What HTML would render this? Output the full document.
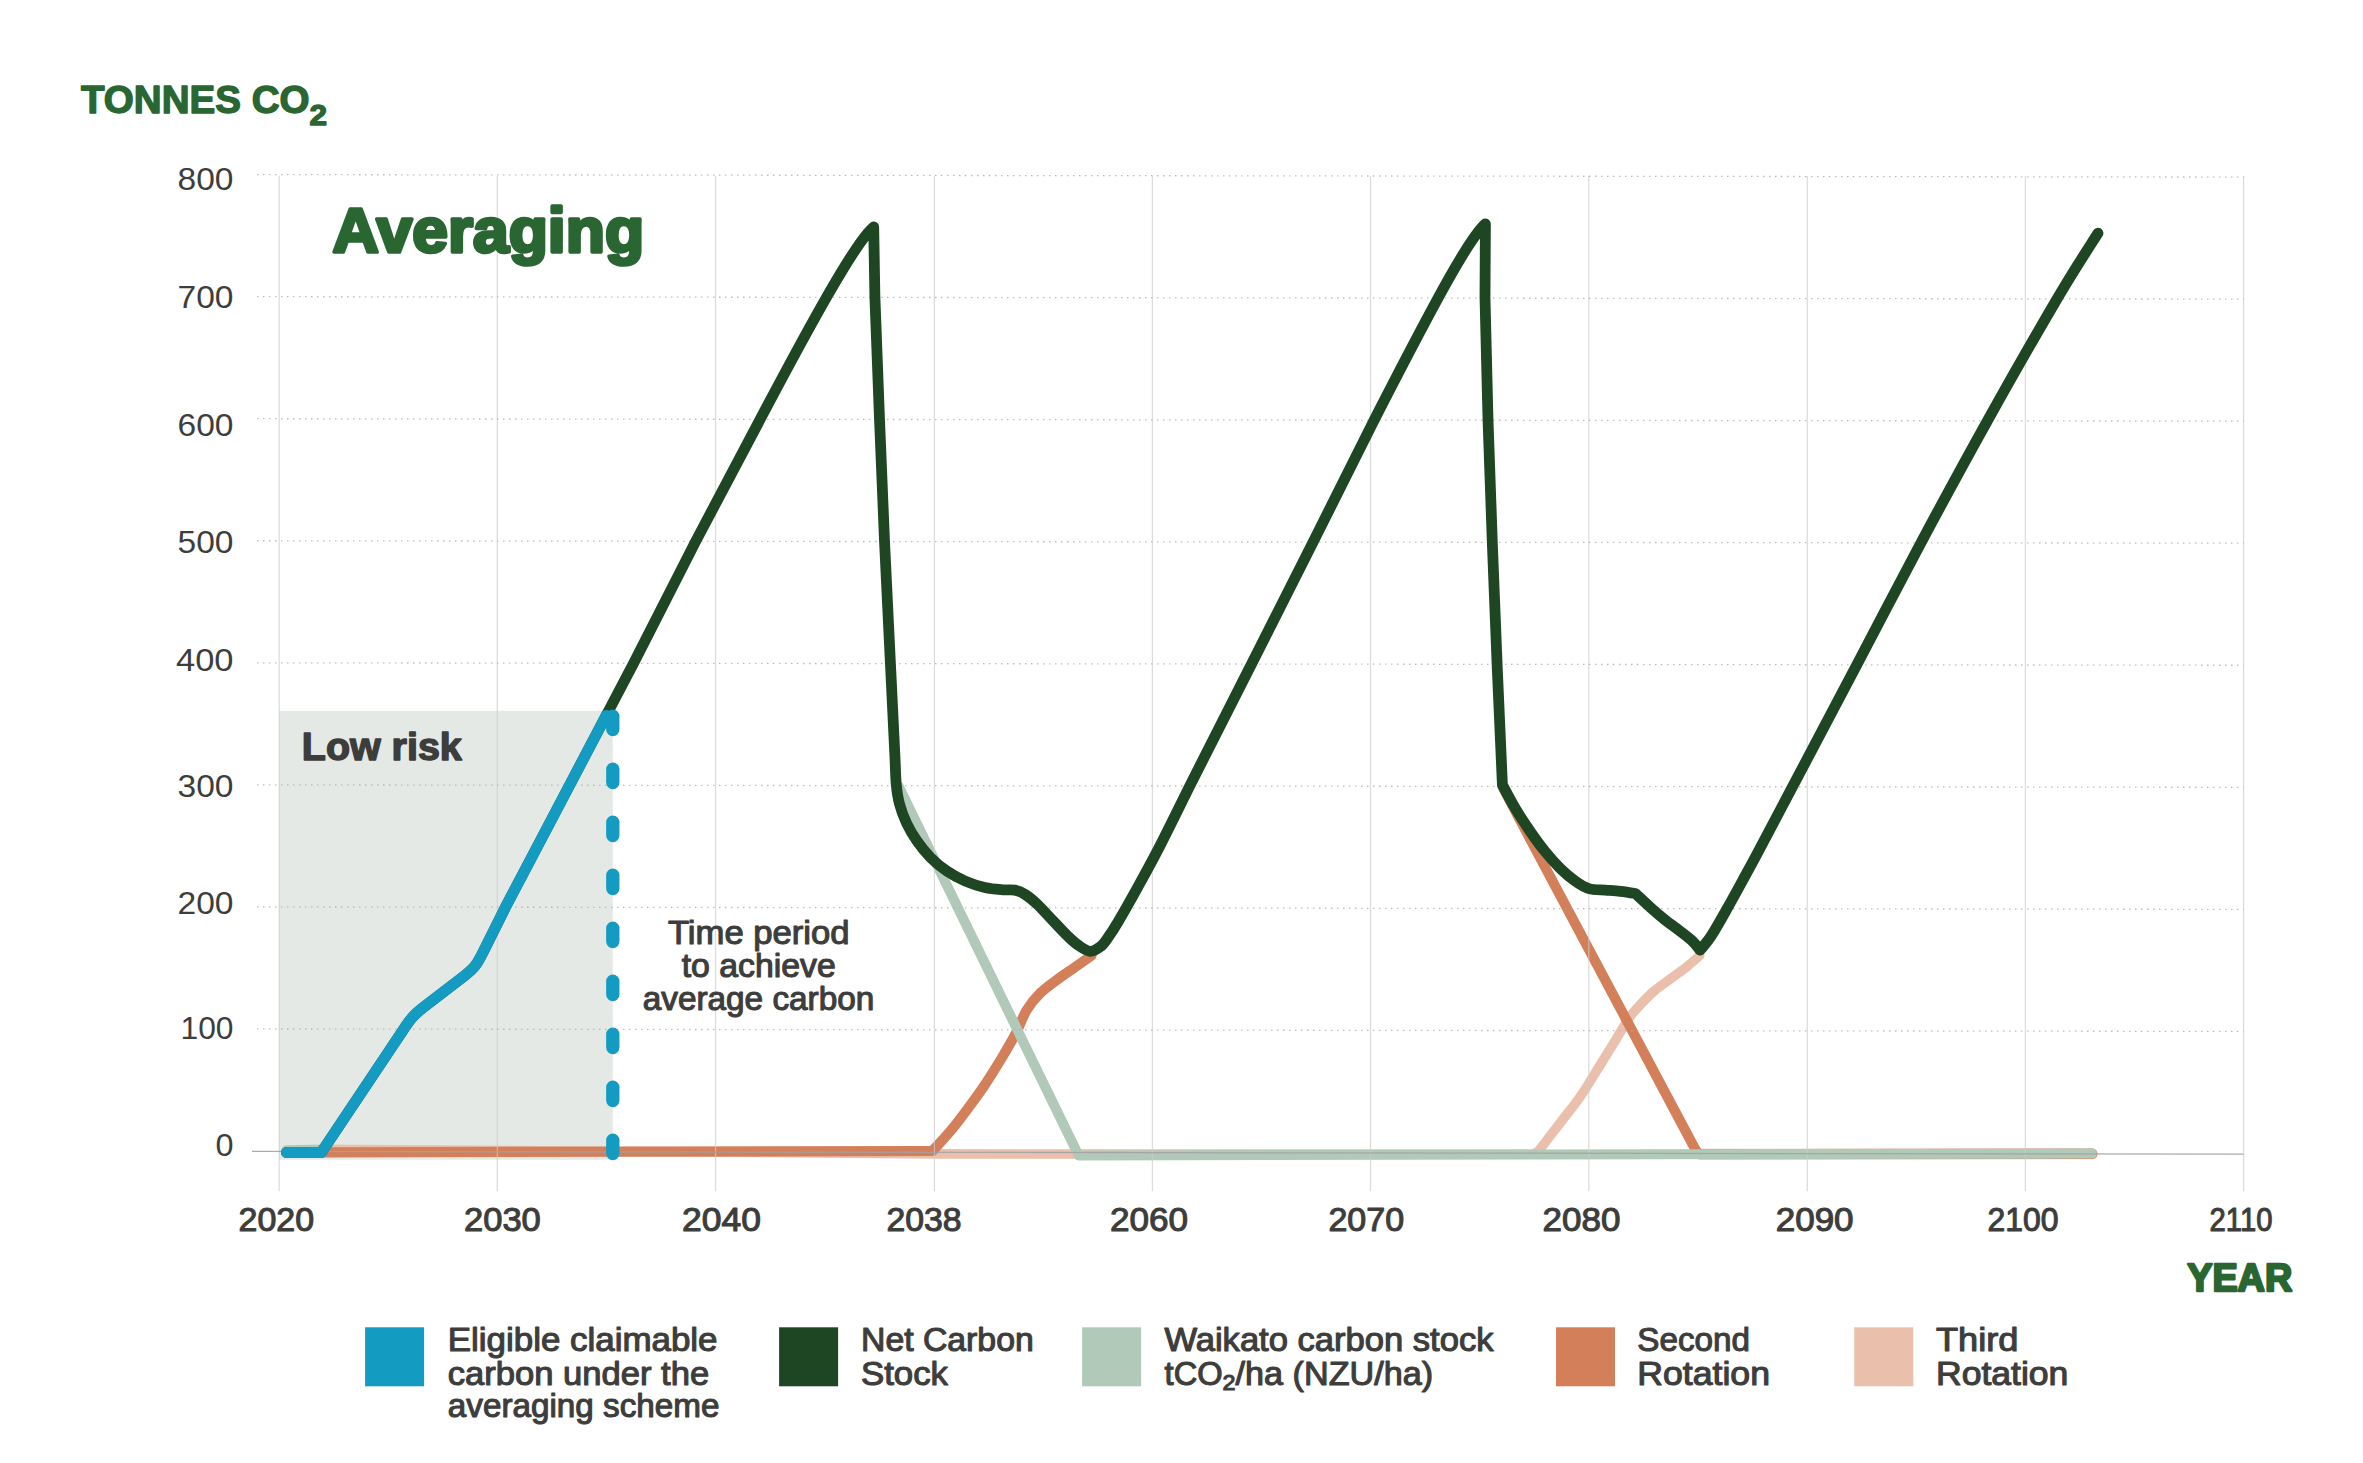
<!DOCTYPE html>
<html lang="en"><head><meta charset="utf-8"><title>Averaging – carbon stock chart</title>
<style>html,body{margin:0;padding:0;background:#fff}body{width:2363px;height:1463px;overflow:hidden}svg{display:block}text{font-family:"Liberation Sans", sans-serif}</style>
</head><body>
<svg width="2363" height="1463" viewBox="0 0 2363 1463">
<rect width="2363" height="1463" fill="#fff"/>
<rect x="279" y="710.9" width="333.8" height="448.8" fill="#e5e9e6"/>
<g fill="none" stroke-linecap="round" stroke-linejoin="round">
<path d="M322 1149.2 L940 1153.9 L1532 1154.3 L1538.2 1151.5 C1542.0 1146.5 1554.6 1130.2 1561.3 1121.5 C1568.0 1112.8 1573.9 1105.5 1578.4 1099.2 C1583.0 1092.9 1584.6 1090.1 1588.6 1083.8 C1592.6 1077.5 1597.7 1069.0 1602.3 1061.6 C1606.9 1054.2 1611.4 1046.8 1616.0 1039.4 C1620.6 1032.0 1625.7 1022.9 1629.7 1017.2 C1633.7 1011.5 1635.9 1009.5 1639.9 1005.2 C1643.9 1000.9 1648.5 995.9 1653.6 991.5 C1658.7 987.1 1665.0 983.0 1670.7 978.7 C1676.4 974.4 1683.0 969.8 1687.8 965.9 C1692.6 962.0 1697.7 957.3 1699.7 955.6" stroke="#eabfab" stroke-width="9.6"/>
<path d="M1700 1154.3 L2092.3 1153.8" stroke="#eabfab" stroke-width="10.9"/>
<path d="M322 1152.3 L928 1151 L932.5 1151.0 C935.6 1147.5 945.3 1137.2 951.3 1130.0 C957.3 1122.8 962.7 1115.5 968.4 1107.8 C974.1 1100.1 979.8 1092.3 985.5 1083.8 C991.2 1075.2 997.5 1065.0 1002.6 1056.5 C1007.7 1048.0 1012.2 1040.3 1016.2 1032.6 C1020.2 1024.9 1022.5 1016.9 1026.5 1010.3 C1030.5 1003.7 1035.1 998.3 1040.2 993.2 C1045.3 988.1 1051.6 983.9 1057.3 979.6 C1063.0 975.3 1068.7 971.6 1074.4 967.6 C1080.1 963.6 1088.7 957.6 1091.5 955.6" stroke="#d37f5a" stroke-width="10.2"/>
<path d="M1502.5 787 L1695.3 1149.3 L1699 1154 L2092.3 1153.9" stroke="#d37f5a" stroke-width="10.1"/>
<path d="M286.5 1150.3 L322 1149.6 M898.5 786 L1078.6 1155.4 L1540 1154.5 L2092 1153.6" stroke="#b1c9b9" stroke-width="10"/>
</g>
<g fill="none">
<line x1="279.2" y1="176" x2="279.2" y2="1191.3" stroke="#cdcdcd" stroke-opacity="0.7" stroke-width="1.25"/>
<line x1="497.3" y1="176" x2="497.3" y2="1191.3" stroke="#cdcdcd" stroke-opacity="0.7" stroke-width="1.25"/>
<line x1="715.5" y1="176" x2="715.5" y2="1191.3" stroke="#cdcdcd" stroke-opacity="0.7" stroke-width="1.25"/>
<line x1="934.4" y1="176" x2="934.4" y2="1191.3" stroke="#cdcdcd" stroke-opacity="0.7" stroke-width="1.25"/>
<line x1="1152.4" y1="176" x2="1152.4" y2="1191.3" stroke="#cdcdcd" stroke-opacity="0.7" stroke-width="1.25"/>
<line x1="1370.5" y1="176" x2="1370.5" y2="1191.3" stroke="#cdcdcd" stroke-opacity="0.7" stroke-width="1.25"/>
<line x1="1588.8" y1="176" x2="1588.8" y2="1191.3" stroke="#cdcdcd" stroke-opacity="0.7" stroke-width="1.25"/>
<line x1="1807.3" y1="176" x2="1807.3" y2="1191.3" stroke="#cdcdcd" stroke-opacity="0.7" stroke-width="1.25"/>
<line x1="2025.4" y1="176" x2="2025.4" y2="1191.3" stroke="#cdcdcd" stroke-opacity="0.7" stroke-width="1.25"/>
<line x1="2243.6" y1="176" x2="2243.6" y2="1191.3" stroke="#cdcdcd" stroke-opacity="0.7" stroke-width="1.25"/>
<line x1="257.0" y1="174.60" x2="2243.6" y2="177.08" stroke="#adadad" stroke-opacity="0.8" stroke-width="1.3" stroke-dasharray="1.5 4.5"/>
<line x1="257.0" y1="296.65" x2="2243.6" y2="299.13" stroke="#adadad" stroke-opacity="0.8" stroke-width="1.3" stroke-dasharray="1.5 4.5"/>
<line x1="257.0" y1="418.70" x2="2243.6" y2="421.18" stroke="#adadad" stroke-opacity="0.8" stroke-width="1.3" stroke-dasharray="1.5 4.5"/>
<line x1="257.0" y1="540.75" x2="2243.6" y2="543.23" stroke="#adadad" stroke-opacity="0.8" stroke-width="1.3" stroke-dasharray="1.5 4.5"/>
<line x1="257.0" y1="662.80" x2="2243.6" y2="665.28" stroke="#adadad" stroke-opacity="0.8" stroke-width="1.3" stroke-dasharray="1.5 4.5"/>
<line x1="257.0" y1="784.85" x2="2243.6" y2="787.33" stroke="#adadad" stroke-opacity="0.8" stroke-width="1.3" stroke-dasharray="1.5 4.5"/>
<line x1="257.0" y1="906.90" x2="2243.6" y2="909.38" stroke="#adadad" stroke-opacity="0.8" stroke-width="1.3" stroke-dasharray="1.5 4.5"/>
<line x1="257.0" y1="1028.95" x2="2243.6" y2="1031.43" stroke="#adadad" stroke-opacity="0.8" stroke-width="1.3" stroke-dasharray="1.5 4.5"/>
<line x1="252" y1="1151.4" x2="2243.6" y2="1154.2" stroke="#a2a2a2" stroke-opacity="0.9" stroke-width="1.25"/>
</g>
<g fill="none" stroke-linecap="round" stroke-linejoin="round">
<path d="M286.5 1152.5 L321.3 1152.5 L400.5 1034 C409 1021 412 1016 424.5 1006.5 L464 976.2 C475 967.5 477 964.5 484 950.3 L505.5 907.1 L569.7 785 L633.6 663.2 L695.8 541.1 L760.3 419.1 C807.9 329.1 855.9 240.7 873.7 226.9 L874.9 296.8 L879.5 418.9 L884.5 541 L890.4 663 L895.1 760 C895.3 764.1 895.6 777.5 896.3 784.8 C897.0 792.1 897.7 797.2 899.4 803.6 C901.1 810.0 903.6 816.9 906.6 823.2 C909.6 829.5 913.1 835.5 917.1 841.2 C921.1 847.0 925.7 852.7 930.7 857.7 C935.7 862.7 941.4 867.4 947.2 871.3 C953.0 875.2 959.0 878.4 965.3 881.1 C971.6 883.8 978.5 886.0 984.8 887.5 C991.1 889.0 997.9 889.4 1002.9 889.8 C1007.9 890.2 1011.1 889.3 1014.9 890.1 C1018.6 890.9 1021.7 892.2 1025.4 894.6 C1029.2 897.0 1032.9 900.1 1037.4 904.4 C1041.9 908.7 1047.5 915.0 1052.5 920.2 C1057.5 925.5 1063.2 931.8 1067.5 935.9 C1071.8 940.0 1074.2 942.4 1078.0 945.0 C1081.8 947.6 1086.3 951.0 1090.1 951.3 C1093.9 951.5 1097.6 948.8 1100.6 946.5 C1103.6 944.2 1105.1 941.7 1108.1 937.4 C1111.1 933.1 1113.6 929.4 1118.6 920.9 C1123.6 912.4 1131.3 898.8 1138.2 886.3 C1145.1 873.8 1151.4 862.5 1160.0 845.7 C1168.6 829.0 1184.8 795.8 1189.8 785.8 L1251.8 663.5 L1313.2 541.9 L1374.4 419.6 C1440.1 291.5 1469.4 238.4 1485.4 223.8 L1485 297.7 L1488 419.6 L1492.3 542.4 L1497.1 664.3 L1502.4 784.8 C1504.5 788.7 1510.5 800.3 1515.1 808.1 C1519.7 815.9 1525.2 824.1 1530.2 831.4 C1535.2 838.7 1540.2 845.6 1545.2 851.7 C1550.2 857.9 1555.2 863.4 1560.2 868.3 C1565.2 873.2 1570.5 877.7 1575.3 881.1 C1580.1 884.5 1583.8 887.1 1588.8 888.6 C1593.8 890.1 1600.0 889.7 1605.3 890.1 C1610.6 890.5 1615.4 890.7 1620.4 891.3 C1625.4 891.9 1632.9 893.1 1635.4 893.5 C1637.9 895.8 1645.5 902.9 1650.5 907.4 C1655.5 911.9 1660.5 916.2 1665.5 920.2 C1670.5 924.2 1676.0 927.9 1680.5 931.4 C1685.0 934.9 1689.3 938.1 1692.6 941.2 C1695.9 944.3 1698.8 948.7 1700.1 950.2 C1702.0 947.8 1707.3 942.0 1711.5 935.5 C1715.7 929.0 1720.6 920.2 1725.5 911.5 C1730.4 902.8 1735.8 893.1 1741.0 883.5 C1746.2 873.9 1748.4 870.1 1757.0 854.0 C1765.6 837.9 1775.8 818.4 1792.5 786.8 C1809.2 755.2 1835.6 705.1 1857.0 664.4 C1878.4 623.7 1899.3 583.3 1921.0 542.7 C1942.7 502.1 1964.7 461.5 1987.4 420.8 C2010.1 380.1 2038.9 329.8 2057.3 298.5 C2075.7 267.2 2091.2 244.1 2098.0 233.2" stroke="#1e4622" stroke-width="10.8"/>
<path d="M286.5 1152.5 L321.3 1152.5 L400.5 1034 C409 1021 412 1016 424.5 1006.5 L464 976.2 C475 967.5 477 964.5 484 950.3 L505.5 907.1 L569.7 785 L606.3 715.4" stroke="#149bc1" stroke-width="11"/>
<path d="M612.8 716.1 L612.8 1153.6" stroke="#149bc1" stroke-width="13.3" stroke-dasharray="13.4 39.6"/>
</g>
<text x="81" y="113.3" font-size="39" font-weight="bold" fill="#2a6631" stroke="#2a6631" stroke-width="1.4" stroke-linejoin="round"><tspan textLength="228.5" lengthAdjust="spacingAndGlyphs">TONNES CO</tspan><tspan font-size="29" dy="11.9" textLength="17.5" lengthAdjust="spacingAndGlyphs">2</tspan></text>
<text x="332.6" y="252.0" font-size="63.0" font-weight="bold" fill="#2a6631" textLength="311.5" lengthAdjust="spacingAndGlyphs" stroke="#2a6631" stroke-width="3.60" stroke-linejoin="round">Averaging</text>
<text x="2187.2" y="1291.3" font-size="39.0" font-weight="bold" fill="#2a6631" textLength="105.0" lengthAdjust="spacingAndGlyphs" stroke="#2a6631" stroke-width="2.40" stroke-linejoin="round">YEAR</text>
<text x="301.8" y="759.6" font-size="39.0" font-weight="bold" fill="#3d3d3c" textLength="160.0" lengthAdjust="spacingAndGlyphs" stroke="#3d3d3c" stroke-width="1.50" stroke-linejoin="round">Low risk</text>
<text x="177.5" y="190.0" font-size="31.0" font-weight="normal" fill="#3d3d3c" textLength="56.0" lengthAdjust="spacingAndGlyphs">800</text>
<text x="177.5" y="308.0" font-size="31.0" font-weight="normal" fill="#3d3d3c" textLength="56.0" lengthAdjust="spacingAndGlyphs">700</text>
<text x="177.5" y="435.5" font-size="31.0" font-weight="normal" fill="#3d3d3c" textLength="56.0" lengthAdjust="spacingAndGlyphs">600</text>
<text x="177.5" y="553.0" font-size="31.0" font-weight="normal" fill="#3d3d3c" textLength="56.0" lengthAdjust="spacingAndGlyphs">500</text>
<text x="176.0" y="671.0" font-size="31.0" font-weight="normal" fill="#3d3d3c" textLength="57.5" lengthAdjust="spacingAndGlyphs">400</text>
<text x="177.5" y="797.2" font-size="31.0" font-weight="normal" fill="#3d3d3c" textLength="56.0" lengthAdjust="spacingAndGlyphs">300</text>
<text x="177.5" y="913.6" font-size="31.0" font-weight="normal" fill="#3d3d3c" textLength="56.0" lengthAdjust="spacingAndGlyphs">200</text>
<text x="180.5" y="1038.7" font-size="31.0" font-weight="normal" fill="#3d3d3c" textLength="53.0" lengthAdjust="spacingAndGlyphs">100</text>
<text x="215.5" y="1155.6" font-size="31.0" font-weight="normal" fill="#3d3d3c" textLength="18.0" lengthAdjust="spacingAndGlyphs">0</text>
<text x="238.6" y="1231.1" font-size="33.5" font-weight="normal" fill="#3d3d3c" textLength="75.5" lengthAdjust="spacingAndGlyphs" stroke="#3d3d3c" stroke-width="1.10" stroke-linejoin="round">2020</text>
<text x="464.1" y="1231.1" font-size="33.5" font-weight="normal" fill="#3d3d3c" textLength="76.7" lengthAdjust="spacingAndGlyphs" stroke="#3d3d3c" stroke-width="1.10" stroke-linejoin="round">2030</text>
<text x="682.0" y="1231.1" font-size="33.5" font-weight="normal" fill="#3d3d3c" textLength="78.9" lengthAdjust="spacingAndGlyphs" stroke="#3d3d3c" stroke-width="1.10" stroke-linejoin="round">2040</text>
<text x="886.5" y="1231.1" font-size="33.5" font-weight="normal" fill="#3d3d3c" textLength="75.1" lengthAdjust="spacingAndGlyphs" stroke="#3d3d3c" stroke-width="1.10" stroke-linejoin="round">2038</text>
<text x="1109.9" y="1231.1" font-size="33.5" font-weight="normal" fill="#3d3d3c" textLength="78.1" lengthAdjust="spacingAndGlyphs" stroke="#3d3d3c" stroke-width="1.10" stroke-linejoin="round">2060</text>
<text x="1328.4" y="1231.1" font-size="33.5" font-weight="normal" fill="#3d3d3c" textLength="75.7" lengthAdjust="spacingAndGlyphs" stroke="#3d3d3c" stroke-width="1.10" stroke-linejoin="round">2070</text>
<text x="1542.6" y="1231.1" font-size="33.5" font-weight="normal" fill="#3d3d3c" textLength="77.8" lengthAdjust="spacingAndGlyphs" stroke="#3d3d3c" stroke-width="1.10" stroke-linejoin="round">2080</text>
<text x="1775.7" y="1231.1" font-size="33.5" font-weight="normal" fill="#3d3d3c" textLength="77.9" lengthAdjust="spacingAndGlyphs" stroke="#3d3d3c" stroke-width="1.10" stroke-linejoin="round">2090</text>
<text x="1987.5" y="1231.1" font-size="33.5" font-weight="normal" fill="#3d3d3c" textLength="71.0" lengthAdjust="spacingAndGlyphs" stroke="#3d3d3c" stroke-width="1.10" stroke-linejoin="round">2100</text>
<text x="2209.6" y="1231.1" font-size="33.5" font-weight="normal" fill="#3d3d3c" textLength="62.9" lengthAdjust="spacingAndGlyphs" stroke="#3d3d3c" stroke-width="1.10" stroke-linejoin="round">2110</text>
<text x="668.0" y="944.3" font-size="32.3" font-weight="normal" fill="#3d3d3c" textLength="181.5" lengthAdjust="spacingAndGlyphs" stroke="#3d3d3c" stroke-width="1.10" stroke-linejoin="round">Time period</text>
<text x="681.7" y="977.2" font-size="32.3" font-weight="normal" fill="#3d3d3c" textLength="154.1" lengthAdjust="spacingAndGlyphs" stroke="#3d3d3c" stroke-width="1.10" stroke-linejoin="round">to achieve</text>
<text x="642.7" y="1010.2" font-size="32.3" font-weight="normal" fill="#3d3d3c" textLength="231.6" lengthAdjust="spacingAndGlyphs" stroke="#3d3d3c" stroke-width="1.10" stroke-linejoin="round">average carbon</text>
<rect x="365.1" y="1327.3" width="59" height="59" fill="#149bc1"/>
<rect x="779.1" y="1327.3" width="59" height="59" fill="#1e4622"/>
<rect x="1082.1" y="1327.3" width="59" height="59" fill="#b1c9b9"/>
<rect x="1556.0" y="1327.3" width="59" height="59" fill="#d37f5a"/>
<rect x="1854.3" y="1327.3" width="59" height="59" fill="#eabfab"/>
<text x="447.8" y="1351.4" font-size="32.4" font-weight="normal" fill="#3d3d3c" textLength="269.7" lengthAdjust="spacingAndGlyphs" stroke="#3d3d3c" stroke-width="1.10" stroke-linejoin="round">Eligible claimable</text>
<text x="447.8" y="1384.5" font-size="32.4" font-weight="normal" fill="#3d3d3c" textLength="261.4" lengthAdjust="spacingAndGlyphs" stroke="#3d3d3c" stroke-width="1.10" stroke-linejoin="round">carbon under the</text>
<text x="447.8" y="1417.4" font-size="32.4" font-weight="normal" fill="#3d3d3c" textLength="271.7" lengthAdjust="spacingAndGlyphs" stroke="#3d3d3c" stroke-width="1.10" stroke-linejoin="round">averaging scheme</text>
<text x="861.0" y="1351.4" font-size="32.4" font-weight="normal" fill="#3d3d3c" textLength="172.7" lengthAdjust="spacingAndGlyphs" stroke="#3d3d3c" stroke-width="1.10" stroke-linejoin="round">Net Carbon</text>
<text x="861.0" y="1384.5" font-size="32.4" font-weight="normal" fill="#3d3d3c" textLength="87.0" lengthAdjust="spacingAndGlyphs" stroke="#3d3d3c" stroke-width="1.10" stroke-linejoin="round">Stock</text>
<text x="1637.3" y="1351.4" font-size="32.4" font-weight="normal" fill="#3d3d3c" textLength="112.7" lengthAdjust="spacingAndGlyphs" stroke="#3d3d3c" stroke-width="1.10" stroke-linejoin="round">Second</text>
<text x="1637.3" y="1384.5" font-size="32.4" font-weight="normal" fill="#3d3d3c" textLength="132.7" lengthAdjust="spacingAndGlyphs" stroke="#3d3d3c" stroke-width="1.10" stroke-linejoin="round">Rotation</text>
<text x="1936.0" y="1351.4" font-size="32.4" font-weight="normal" fill="#3d3d3c" textLength="82.4" lengthAdjust="spacingAndGlyphs" stroke="#3d3d3c" stroke-width="1.10" stroke-linejoin="round">Third</text>
<text x="1936.0" y="1384.5" font-size="32.4" font-weight="normal" fill="#3d3d3c" textLength="132.4" lengthAdjust="spacingAndGlyphs" stroke="#3d3d3c" stroke-width="1.10" stroke-linejoin="round">Rotation</text>
<text x="1164.4" y="1351.4" font-size="32.4" font-weight="normal" fill="#3d3d3c" textLength="329.1" lengthAdjust="spacingAndGlyphs" stroke="#3d3d3c" stroke-width="1.10" stroke-linejoin="round">Waikato carbon stock</text>
<text x="1164.6" y="1384.5" font-size="32.4" fill="#3d3d3c" stroke="#3d3d3c" stroke-width="1.10" stroke-linejoin="round"><tspan textLength="58" lengthAdjust="spacingAndGlyphs">tCO</tspan><tspan font-size="22" dy="5" textLength="13" lengthAdjust="spacingAndGlyphs">2</tspan><tspan dy="-5" textLength="197.5" lengthAdjust="spacingAndGlyphs">/ha (NZU/ha)</tspan></text>
</svg>
</body></html>
